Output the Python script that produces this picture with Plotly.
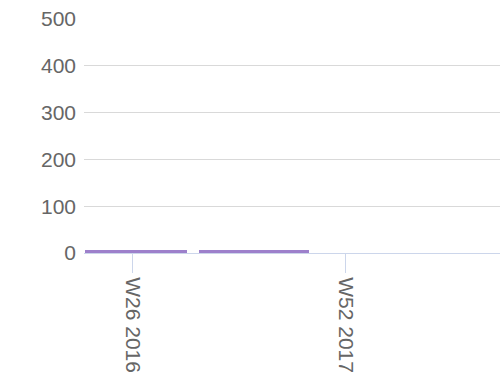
import plotly.graph_objects as go

# Weekly counts, aggregated into two reporting periods.
# Week numbers count from week 1 of 2016 (W1 2017 = week 53).
period_start_week = [8.6, 50.2]
period_end_week = [45.8, 90.3]
period_values = [6, 6]

tick_weeks = [26, 104]
tick_labels = ["W26 2016", "W52 2017"]

y_ticks = [0, 100, 200, 300, 400, 500]

centers = [(s + e) / 2 for s, e in zip(period_start_week, period_end_week)]
widths = [e - s for s, e in zip(period_start_week, period_end_week)]

fig = go.Figure(
    go.Bar(
        x=centers,
        y=period_values,
        width=widths,
        marker=dict(color="#9d80cb", line=dict(width=0)),
        hoverinfo="skip",
    )
)

label_font = dict(family="Liberation Sans, Arial, sans-serif", size=21, color="#666666")

fig.update_layout(
    width=500,
    height=381,
    margin=dict(l=84, r=0, t=19, b=128),
    paper_bgcolor="white",
    plot_bgcolor="white",
    showlegend=False,
    bargap=0,
)

fig.update_xaxes(
    range=[8.06, 160.4],
    tickmode="array",
    tickvals=tick_weeks,
    ticktext=tick_labels,
    tickangle=90,
    tickfont=label_font,
    ticks="outside",
    ticklen=19,
    tickcolor="#ccd6eb",
    tickwidth=1,
    showline=True,
    linecolor="#ccd6eb",
    linewidth=1,
    showgrid=False,
    zeroline=False,
)

fig.update_yaxes(
    range=[0, 500],
    tickmode="array",
    tickvals=y_ticks,
    tickfont=label_font,
    ticks="",
    ticklabelstandoff=7,
    showgrid=True,
    gridcolor="#d9d9d9",
    gridwidth=1,
    zeroline=False,
    showline=False,
)

fig.write_html("out.html")
